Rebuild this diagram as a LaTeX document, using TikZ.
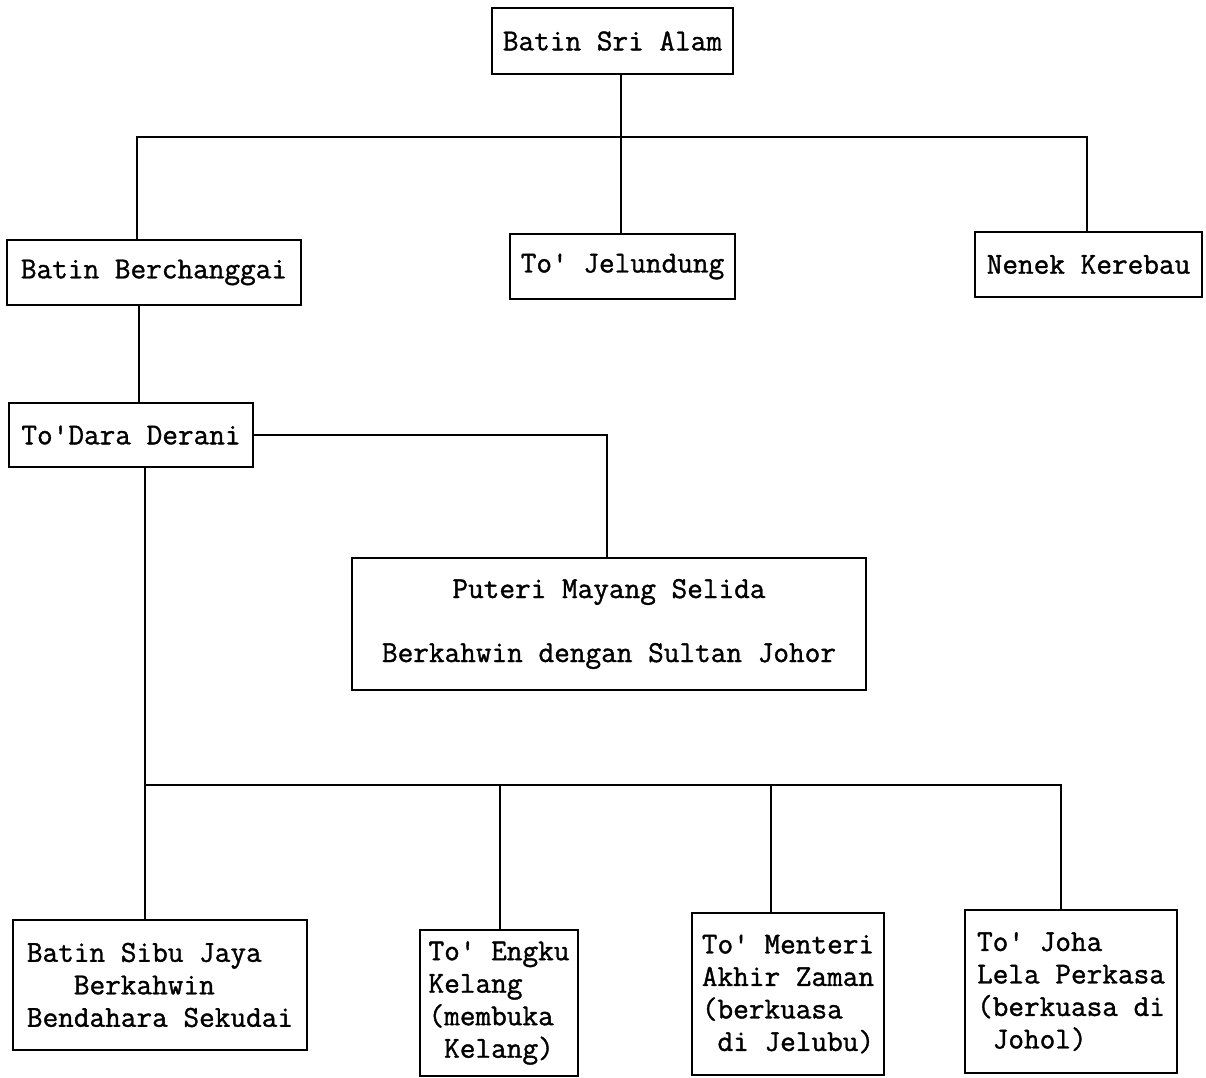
\documentclass[tikz,border=0pt]{standalone}
\usepackage{fontspec}
\setmonofont[FakeBold=1.2]{Latin Modern Mono}
\begin{document}
\begin{tikzpicture}[x=1pt,y=-1pt,line width=1.4pt,
  box/.style={draw,inner sep=0pt,font=\ttfamily\fontsize{30.4}{32.5}\selectfont},
  leftbox/.style={box,align=left}]
\useasboundingbox (0,0) rectangle (1206,1077);
\node[box,minimum width=241pt,minimum height=66pt] (sri) at (612.5,41) {Batin Sri Alam};
\node[box,minimum width=294pt,minimum height=65pt] (berch) at (154,272.5) {Batin Berchanggai};
\node[box,minimum width=225pt,minimum height=65pt] (jel) at (622.5,266.5) {To' Jelundung};
\node[box,minimum width=227pt,minimum height=65pt] (nenek) at (1088.5,264.5) {Nenek Kerebau};
\node[box,minimum width=244pt,minimum height=64pt] (dara) at (131,435) {To'Dara Derani};
\node[box,align=center,minimum width=514pt,minimum height=132pt] (puteri) at (609,624)
  {Puteri Mayang Selida\\[31.5pt]Berkahwin dengan Sultan Johor};
\node[leftbox,minimum width=294pt,minimum height=130pt] (sibu) at (160,985)
  {Batin Sibu Jaya\\\phantom{xxx}Berkahwin\\Bendahara Sekudai};
\node[leftbox,minimum width=158pt,minimum height=146pt] (engku) at (499,1003)
  {To' Engku\\Kelang\\(membuka\\\phantom{x}Kelang)};
\node[leftbox,minimum width=192pt,minimum height=162pt] (menteri) at (788,994)
  {To' Menteri\\Akhir Zaman\\(berkuasa\\\phantom{x}di Jelubu)};
\node[leftbox,minimum width=212pt,minimum height=163pt] (joha) at (1071,991.5)
  {To' Joha\\Lela Perkasa\\(berkuasa di\\\phantom{x}Johol)};
% upper branches
\coordinate (top) at (621,137);
\draw ([xshift=8.5pt]sri.south) -- ([xshift=8.5pt]sri.south |- jel.north);
\draw ([xshift=-17pt]berch.north) |- (top) -| ([xshift=-1.5pt]nenek.north);
\draw ([xshift=-15pt]berch.south) -- ([xshift=-15pt]berch.south |- dara.north);
\draw (dara.east) -| ([xshift=-2pt]puteri.north);
% lower branches
\coordinate (bus) at (145,785);
\draw ([xshift=14pt]dara.south) -- (bus |- sibu.north);
\draw (bus) -| ([xshift=-10pt]joha.north);
\draw ([xshift=1pt]engku.north) -- ++(0,-145);
\draw ([xshift=-17pt]menteri.north) -- ++(0,-128);
\end{tikzpicture}
\end{document}
